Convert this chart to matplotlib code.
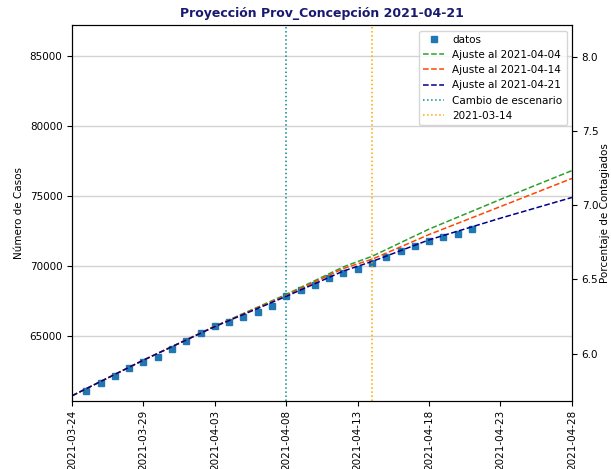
import numpy as np
import pandas as pd
import matplotlib
matplotlib.use("Agg")
import matplotlib.pyplot as plt
import matplotlib.dates as mdates

# ------------------------------------------------------------
# Datos
# ------------------------------------------------------------

poblacion = 1_062_000

fechas_datos = pd.date_range("2021-03-25", "2021-04-21", freq="D")
casos = [
    61070, 61590, 62120, 62660, 63120, 63450, 64050, 64590, 65190, 65660,
    65950, 66310, 66660, 67140, 67810, 68260, 68620, 69090, 69480, 69760,
    70190, 70620, 71070, 71430, 71800, 72040, 72290, 72620,
]

fechas_ajuste = pd.to_datetime([
    "2021-03-24", "2021-03-29", "2021-04-03", "2021-04-08", "2021-04-12",
    "2021-04-14", "2021-04-18", "2021-04-23", "2021-04-28",
])
ajuste_0404 = [60700, 63250, 65680, 67950, 69920, 70670, 72620, 74740, 76800]
ajuste_0414 = [60700, 63250, 65670, 67880, 69800, 70460, 72230, 74230, 76240]
ajuste_0421 = [60700, 63250, 65650, 67810, 69620, 70300, 71850, 73400, 74880]

fecha_cambio = pd.Timestamp("2021-04-08")
fecha_marca = pd.Timestamp("2021-04-14")

x_ticks = pd.date_range("2021-03-24", "2021-04-28", freq="5D")
y_lim = (60360, 87190)

# ------------------------------------------------------------
# Figura
# ------------------------------------------------------------

plt.rcParams["font.size"] = 7.5

fig, ax = plt.subplots(figsize=(6.11, 4.69), dpi=100)
fig.subplots_adjust(left=0.118, right=0.936, top=0.946, bottom=0.146)

ax.plot(fechas_datos, casos, "s", color="tab:blue", markersize=5, label="datos")
ax.plot(fechas_ajuste, ajuste_0404, "--", color="tab:green", lw=1.1, label="Ajuste al 2021-04-04")
ax.plot(fechas_ajuste, ajuste_0414, "--", color="orangered", lw=1.1, label="Ajuste al 2021-04-14")
ax.plot(fechas_ajuste, ajuste_0421, "--", color="darkblue", lw=1.1, label="Ajuste al 2021-04-21")
ax.axvline(fecha_cambio, ls=":", color="darkcyan", lw=1.1, label="Cambio de escenario")
ax.axvline(fecha_marca, ls=":", color="orange", lw=1.1, label="2021-03-14")

ax.set_xlim(x_ticks[0], x_ticks[-1])
ax.set_ylim(*y_lim)
ax.set_xticks(x_ticks)
ax.xaxis.set_major_formatter(mdates.DateFormatter("%Y-%m-%d"))
plt.setp(ax.get_xticklabels(), rotation=90)
ax.set_yticks([65000, 70000, 75000, 80000, 85000])
ax.grid(axis="y", color="lightgray", lw=1.0)
ax.set_ylabel("Número de Casos")
ax.set_title("Proyección Prov_Concepción 2021-04-21", fontsize=9,
             fontweight="bold", color="midnightblue")
ax.legend(loc="upper right", fontsize=7.5)

ax2 = ax.twinx()
ax2.set_ylim(y_lim[0] / poblacion * 100, y_lim[1] / poblacion * 100)
ax2.set_ylabel("Porcentaje de Contagiados", labelpad=1.5)

fig.savefig("out.png", dpi=100)
plt.close(fig)
